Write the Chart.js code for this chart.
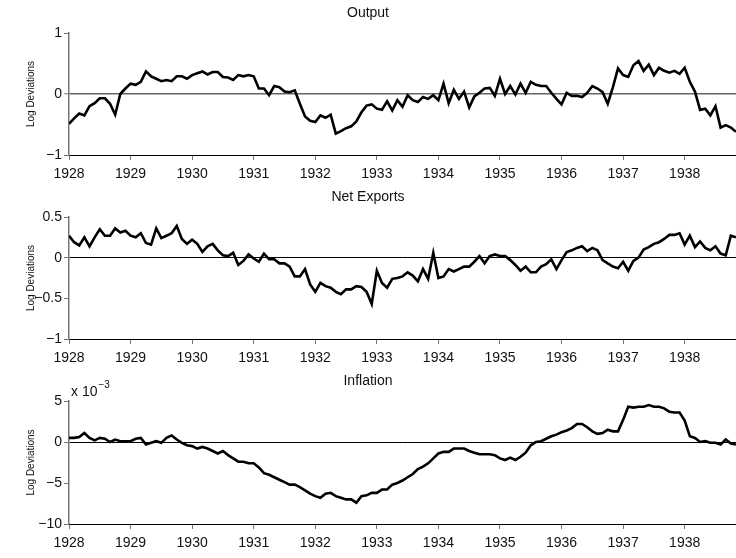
<!DOCTYPE html>
<html>
<head>
<meta charset="utf-8">
<script src="https://cdn.jsdelivr.net/npm/chart.js@4.4.0/dist/chart.umd.min.js"></script>
<style>
  html, body { margin: 0; padding: 0; background: #fff; }
  #wrap { position: relative; width: 736px; height: 558px; }
  #wrap canvas { position: absolute; left: 0; }
</style>
</head>
<body>
<div id="wrap">
  <canvas id="cOutput" width="736" height="184" style="top:0px"></canvas>
  <canvas id="cNet" width="736" height="184" style="top:184px"></canvas>
  <canvas id="cInfl" width="736" height="190" style="top:368px"></canvas>
</div>
<script>
// monthly series, Jan 1928 onward (log deviations)
var output = [
  -0.49, -0.40, -0.32, -0.35, -0.20, -0.15, -0.07, -0.07, -0.16, -0.34,
  0.00, 0.09, 0.17, 0.15, 0.20, 0.37, 0.29, 0.25, 0.21, 0.23,
  0.21, 0.29, 0.29, 0.25, 0.31, 0.34, 0.37, 0.32, 0.36, 0.36,
  0.28, 0.27, 0.23, 0.31, 0.29, 0.31, 0.29, 0.09, 0.09, -0.02,
  0.13, 0.11, 0.04, 0.03, 0.06, -0.16, -0.37, -0.44, -0.46, -0.35,
  -0.39, -0.34, -0.65, -0.61, -0.56, -0.53, -0.45, -0.30, -0.19, -0.17,
  -0.24, -0.26, -0.12, -0.27, -0.10, -0.21, -0.02, -0.10, -0.13, -0.05,
  -0.08, -0.02, -0.10, 0.17, -0.15, 0.07, -0.08, 0.04, -0.22, -0.04,
  0.02, 0.09, 0.10, -0.03, 0.25, 0.00, 0.13, -0.01, 0.17, 0.02,
  0.20, 0.15, 0.13, 0.13, 0.02, -0.08, -0.17, 0.02, -0.03, -0.03,
  -0.05, 0.02, 0.13, 0.09, 0.03, -0.16, 0.11, 0.42, 0.31, 0.28,
  0.47, 0.54, 0.38, 0.48, 0.31, 0.43, 0.38, 0.35, 0.38, 0.33,
  0.43, 0.20, 0.04, -0.26, -0.24, -0.35, -0.20, -0.55, -0.51, -0.55,
  -0.62
];

var netExports = [
  0.27, 0.19, 0.15, 0.25, 0.14, 0.25, 0.35, 0.27, 0.27, 0.36,
  0.31, 0.33, 0.27, 0.25, 0.30, 0.18, 0.16, 0.36, 0.24, 0.27,
  0.30, 0.39, 0.23, 0.17, 0.22, 0.17, 0.07, 0.14, 0.17, 0.09,
  0.03, 0.02, 0.06, -0.09, -0.04, 0.04, -0.01, -0.05, 0.05, -0.02,
  -0.02, -0.07, -0.07, -0.11, -0.23, -0.23, -0.14, -0.33, -0.42, -0.31,
  -0.35, -0.37, -0.42, -0.45, -0.39, -0.39, -0.35, -0.36, -0.42, -0.57,
  -0.16, -0.31, -0.37, -0.26, -0.25, -0.23, -0.18, -0.22, -0.29, -0.14,
  -0.26, 0.06, -0.25, -0.23, -0.14, -0.17, -0.14, -0.11, -0.11, -0.05,
  0.02, -0.07, 0.02, 0.04, 0.02, 0.02, -0.03, -0.09, -0.16, -0.11,
  -0.18, -0.18, -0.11, -0.08, -0.02, -0.14, -0.03, 0.07, 0.09, 0.12,
  0.14, 0.08, 0.12, 0.09, -0.03, -0.07, -0.11, -0.13, -0.05, -0.16,
  -0.04, 0.00, 0.10, 0.13, 0.17, 0.19, 0.23, 0.28, 0.28, 0.30,
  0.16, 0.27, 0.13, 0.20, 0.12, 0.09, 0.14, 0.05, 0.03, 0.27,
  0.25
];

// inflation in units of 10^-3
var inflation = [
  0.5, 0.5, 0.6, 1.1, 0.5, 0.2, 0.5, 0.4, 0.0, 0.3,
  0.1, 0.1, 0.1, 0.4, 0.5, -0.3, -0.1, 0.1, -0.1, 0.5,
  0.8, 0.3, -0.1, -0.4, -0.5, -0.8, -0.6, -0.8, -1.1, -1.4,
  -1.1, -1.6, -2.0, -2.4, -2.4, -2.6, -2.6, -3.1, -3.8, -4.0,
  -4.3, -4.6, -4.9, -5.2, -5.2, -5.5, -5.9, -6.3, -6.6, -6.8,
  -6.3, -6.2, -6.6, -6.8, -7.0, -7.0, -7.4, -6.6, -6.5, -6.2,
  -6.2, -5.8, -5.8, -5.2, -5.0, -4.7, -4.3, -3.9, -3.3, -3.0,
  -2.6, -2.0, -1.4, -1.2, -1.2, -0.8, -0.8, -0.8, -1.1, -1.3,
  -1.5, -1.5, -1.5, -1.6, -2.0, -2.2, -1.9, -2.2, -1.8, -1.3,
  -0.4, 0.0, 0.1, 0.4, 0.7, 0.9, 1.2, 1.4, 1.7, 2.2,
  2.2, 1.8, 1.3, 1.0, 1.1, 1.5, 1.3, 1.3, 2.7, 4.3,
  4.2, 4.3, 4.3, 4.5, 4.3, 4.3, 4.1, 3.7, 3.6, 3.6,
  2.6, 0.7, 0.5, 0.0, 0.1, -0.1, -0.1, -0.3, 0.3, -0.2,
  -0.3
];

var yearTicks = [1928, 1929, 1930, 1931, 1932, 1933, 1934, 1935, 1936, 1937, 1938];
var outputTicks = [-1, 0, 1];
var netTicks = [-1, -0.5, 0, 0.5];
var inflTicks = [-10, -5, 0, 5];

var FONT = "'Liberation Sans', Arial, Helvetica, sans-serif";
var firstYear = 1928;
var lastX = firstYear + (output.length - 1) / 12;

function toPoints(arr) {
  return arr.map(function(v, i) { return { x: firstYear + i / 12, y: v }; });
}

function fmt(v) {
  return String(v).replace('-', '\u2212');
}

function makePanel(id, title, values, yTicks, plotHeight, zeroStyle, extraPlugins) {
  var canvas = document.getElementById(id);
  var axisH = canvas.height - 33 - plotHeight;
  return new Chart(canvas.getContext('2d'), {
    type: 'line',
    data: {
      datasets: [{
        data: toPoints(values),
        borderColor: '#000',
        borderWidth: 2.6,
        pointRadius: 0,
        tension: 0,
        fill: false
      }]
    },
    options: {
      responsive: false,
      animation: false,
      layout: { padding: { left: 0, right: 0, top: 0, bottom: 0 } },
      plugins: {
        legend: { display: false },
        tooltip: { enabled: false },
        title: {
          display: true,
          text: title,
          color: '#111',
          font: { family: FONT, size: 14, weight: 'normal', lineHeight: 1.2 },
          padding: { top: 5, bottom: 11.2 }
        }
      },
      scales: {
        x: {
          type: 'linear',
          min: firstYear,
          max: lastX,
          afterBuildTicks: function(s) {
            s.ticks = yearTicks.map(function(v) { return { value: v }; });
          },
          afterFit: function(s) { s.height = axisH; },
          grid: { drawOnChartArea: false, drawTicks: true, tickLength: 5, tickColor: '#777', lineWidth: 1 },
          border: { display: true, color: '#000', width: 1 },
          ticks: {
            color: '#111',
            padding: 6,
            maxRotation: 0,
            autoSkip: false,
            font: { family: FONT, size: 14 },
            callback: function(v) { return String(v); }
          }
        },
        y: {
          type: 'linear',
          min: yTicks[0],
          max: yTicks[yTicks.length - 1],
          afterBuildTicks: function(s) {
            s.ticks = yTicks.map(function(v) { return { value: v }; });
          },
          afterFit: function(s) { s.width = 69; },
          grid: {
            drawOnChartArea: true,
            drawTicks: true,
            tickLength: 5,
            color: function(c) { return c.tick && c.tick.value === 0 ? zeroStyle.color : 'rgba(0,0,0,0)'; },
            lineWidth: function(c) { return c.tick && c.tick.value === 0 ? zeroStyle.width : 1; },
            tickColor: '#777',
            tickWidth: 1
          },
          border: { display: true, color: '#777', width: 1.5 },
          title: {
            display: true,
            text: 'Log Deviations',
            color: '#111',
            font: { family: FONT, size: 10 },
            padding: { top: 25, bottom: 0 }
          },
          ticks: {
            color: '#111',
            padding: 2,
            autoSkip: false,
            font: { family: FONT, size: 14 },
            callback: function(v) { return fmt(v); }
          }
        }
      }
    },
    plugins: extraPlugins || []
  });
}

// exponent note above the inflation axis
var exponentLabel = {
  id: 'exponentLabel',
  afterDraw: function(chart) {
    var ctx = chart.ctx;
    var a = chart.chartArea;
    ctx.save();
    ctx.fillStyle = '#111';
    ctx.textBaseline = 'alphabetic';
    ctx.textAlign = 'left';
    ctx.font = '14px ' + FONT;
    var base = 'x 10';
    ctx.fillText(base, a.left + 2, a.top - 5);
    var w = ctx.measureText(base).width;
    ctx.font = '10px ' + FONT;
    ctx.fillText('\u22123', a.left + 2 + w + 1, a.top - 13);
    ctx.restore();
  }
};

makePanel('cOutput', 'Output', output, outputTicks, 122, { color: '#666', width: 1.5 });
makePanel('cNet', 'Net Exports', netExports, netTicks, 122, { color: '#000', width: 1 });
makePanel('cInfl', 'Inflation', inflation, inflTicks, 123, { color: '#000', width: 1 }, [exponentLabel]);
</script>
</body>
</html>
